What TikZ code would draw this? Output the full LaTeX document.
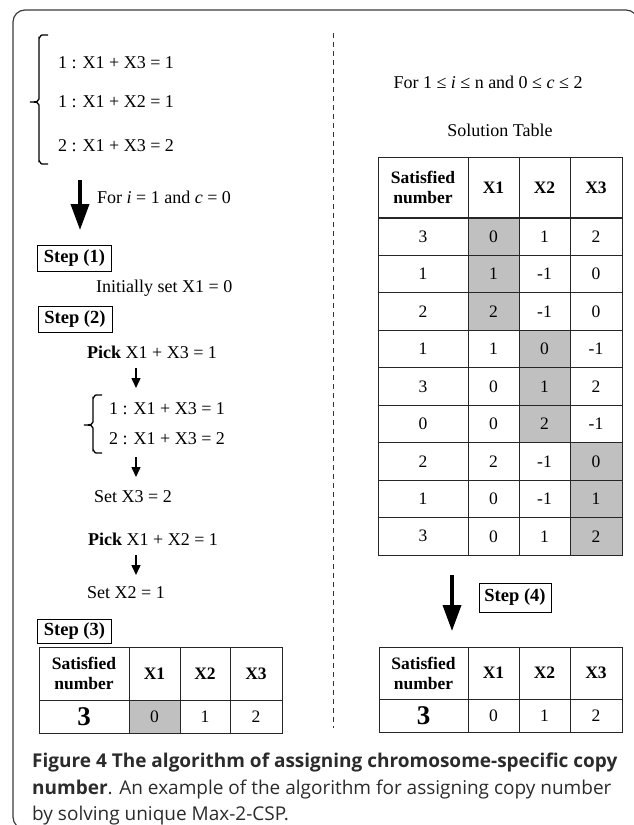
\documentclass[tikz,border=0pt]{standalone}
\usepackage{fontspec}
\setmainfont{Liberation Serif}
\newfontfamily\capfont{Open Sans}
\usetikzlibrary{arrows.meta}
\definecolor{shadegray}{HTML}{C0C0C0}
\definecolor{framegray}{HTML}{3A3A3A}
\definecolor{captext}{HTML}{2B2B2B}
\begin{document}
\begin{tikzpicture}[x=1pt,y=-1pt,
  txt/.style={font=\fontsize{18}{21}\selectfont, inner sep=0pt, anchor=west},
  stepbox/.style={draw, line width=0.9pt, font=\bfseries\fontsize{18.5}{20}\selectfont, inner sep=0pt, minimum width=74pt, minimum height=26pt},
  cell/.style={font=\fontsize{17.5}{20}\selectfont, inner sep=0pt},
  hcell/.style={font=\bfseries\fontsize{17.5}{20}\selectfont, align=center, inner sep=0pt},
  bigthree/.style={font=\bfseries\fontsize{27}{27}\selectfont, inner sep=0pt},
  tline/.style={draw=black!85, line width=0.9pt},
  bracestyle/.style={draw=black, line width=1.3pt},
  bigarrow/.style={line width=3.6pt, -{Triangle[width=18pt,length=26pt]}},
  smallarrow/.style={line width=1.5pt, -{Triangle[width=9pt,length=10pt]}},
  capline/.style={font=\capfont\fontsize{19}{22}\selectfont, text=captext, inner sep=0pt, anchor=base west}
]
\useasboundingbox (0,0) rectangle (634,825);
% outer frame
\draw[framegray, line width=1.2pt, rounded corners=12pt] (13,10) rectangle (638,829);
% dashed separator
\coordinate (dtop) at (333,33);
\coordinate (dbot) at (333,728);
\draw[black!80, line width=0.8pt, dash pattern=on 5pt off 4pt] (dtop) -- (dbot);

% ---------- left column ----------
\node[txt] (eq1) at (58,63) {1 : X1 + X3 = 1};
\node[txt] (eq2) at (58,102) {1 : X1 + X2 = 1};
\node[txt] (eq3) at (58,146) {2 : X1 + X3 = 2};
\draw[bracestyle] (48,35) -- (42,35) to[out=180,in=-90] (39,38) -- (39,99)
   .. controls (39,101.5) and (37,102) .. (30,102)
   .. controls (37,102) and (39,102.5) .. (39,105) -- (39,161) to[out=90,in=180] (42,164) -- (48,164);

\coordinate (a1s) at (80,180);
\coordinate (a1e) at (80,230);
\draw[bigarrow] (a1s) -- (a1e);
\node[txt] (fori) at (97,197) {For \textit{i} = 1 and \textit{c} = 0};

\node[stepbox] (s1) at (74.5,258) {Step (1)};
\node[txt] (init) at (96,288) {Initially set X1 = 0};
\node[stepbox] (s2) at (75,319) {Step (2)};

\node[txt] (pick1) at (87,352) {\textbf{Pick} X1 + X3 = 1};
\coordinate (b1s) at (136,368);
\coordinate (b1e) at (136,388);
\draw[smallarrow] (b1s) -- (b1e);
\node[txt] (eq4) at (109,409) {1 : X1 + X3 = 1};
\node[txt] (eq5) at (109,439) {2 : X1 + X3 = 2};
\draw[bracestyle] (102,395) -- (96,395) to[out=180,in=-90] (93,398) -- (93,422)
   .. controls (93,424.5) and (91,425) .. (84,425)
   .. controls (91,425) and (93,425.5) .. (93,428) -- (93,450) to[out=90,in=180] (96,453) -- (102,453);
\coordinate (b2s) at (136,457);
\coordinate (b2e) at (136,477);
\draw[smallarrow] (b2s) -- (b2e);
\node[txt] (set3) at (94,497) {Set X3 = 2};
\node[txt] (pick2) at (88,539) {\textbf{Pick} X1 + X2 = 1};
\coordinate (b3s) at (136,555);
\coordinate (b3e) at (136,575);
\draw[smallarrow] (b3s) -- (b3e);
\node[txt] (set2) at (87,593) {Set X2 = 1};
\node[stepbox, minimum height=24pt] (s3) at (74.5,631) {Step (3)};

% left result table
\fill[shadegray] (129,700) rectangle (180,733);
\draw[tline] (39,647) rectangle (282,733);
\draw[tline] (39,700) -- (282,700);
\foreach \x in {129,180,230} \draw[tline] (\x,647) -- (\x,733);
\node[hcell] (lh0) at (84,673.5) {Satisfied\\number};
\node[hcell] (lh1) at (154.5,673.5) {X1};
\node[hcell] (lh2) at (205,673.5) {X2};
\node[hcell] (lh3) at (256,673.5) {X3};
\node[bigthree] (lv0) at (84,716.5) {3};
\node[cell] (lv1) at (154.5,716.5) {0};
\node[cell] (lv2) at (205,716.5) {1};
\node[cell] (lv3) at (256,716.5) {2};

% ---------- right column ----------
\node[txt, anchor=center] (range) at (488,82) {For 1 ≤ \textit{i} ≤ n and 0 ≤ \textit{c} ≤ 2};
\node[txt, anchor=center] (soltitle) at (500,130) {Solution Table};

\fill[shadegray] (468,218) rectangle (519,330.3);
\fill[shadegray] (519,330.3) rectangle (570,442.7);
\fill[shadegray] (570,442.7) rectangle (622,555);
\draw[tline] (378,157) rectangle (622,555);
\draw[black!85, line width=1.8pt] (378,218) -- (622,218);
\foreach \i in {1,...,8} \draw[tline] (378,{218+\i*37.444}) -- (622,{218+\i*37.444});
\foreach \x in {468,519,570} \draw[tline] (\x,157) -- (\x,555);
\node[hcell] (rh0) at (423,187.5) {Satisfied\\number};
\node[hcell] (rh1) at (493.5,187.5) {X1};
\node[hcell] (rh2) at (544.5,187.5) {X2};
\node[hcell] (rh3) at (596,187.5) {X3};
\foreach \a/\b/\c/\d [count=\i] in {3/0/1/2, 1/1/-1/0, 2/2/-1/0, 1/1/0/-1, 3/0/1/2, 0/0/2/-1, 2/2/-1/0, 1/0/-1/1, 3/0/1/2}{
  \node[cell] (rt-\i-1) at (423,{218+(\i-0.5)*37.444}) {\a};
  \node[cell] (rt-\i-2) at (493.5,{218+(\i-0.5)*37.444}) {\b};
  \node[cell] (rt-\i-3) at (544.5,{218+(\i-0.5)*37.444}) {\c};
  \node[cell] (rt-\i-4) at (596,{218+(\i-0.5)*37.444}) {\d};
}

\coordinate (c1s) at (452,575);
\coordinate (c1e) at (452,631);
\draw[bigarrow] (c1s) -- (c1e);
\node[stepbox, minimum width=72pt, minimum height=29pt] (s4) at (515,597.5) {Step (4)};

% right result table
\draw[tline] (379,647) rectangle (622,732);
\draw[tline] (379,699) -- (622,699);
\foreach \x in {468,519,570} \draw[tline] (\x,647) -- (\x,732);
\node[hcell] (bh0) at (423.5,673) {Satisfied\\number};
\node[hcell] (bh1) at (493.5,673) {X1};
\node[hcell] (bh2) at (544.5,673) {X2};
\node[hcell] (bh3) at (596,673) {X3};
\node[bigthree] (bv0) at (423.5,715.5) {3};
\node[cell] (bv1) at (493.5,715.5) {0};
\node[cell] (bv2) at (544.5,715.5) {1};
\node[cell] (bv3) at (596,715.5) {2};

% ---------- caption ----------
\node[capline] (cap1) at (32,767) {\textbf{Figure 4 The algorithm of assigning chromosome-specific copy}};
\node[capline] (cap2) at (32,794) {\textbf{number}. An example of the algorithm for assigning copy number};
\node[capline] (cap3) at (32,820) {by solving unique Max-2-CSP.};
\end{tikzpicture}
\end{document}
